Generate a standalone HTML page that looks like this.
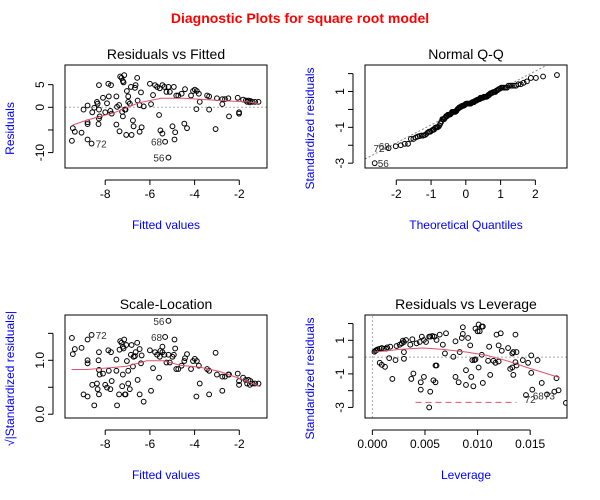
<!DOCTYPE html>
<html><head><meta charset="utf-8">
<style>
html,body{margin:0;padding:0;background:#fff;}
svg{display:block;font-family:"Liberation Sans",Arial,sans-serif;}
</style></head>
<body>
<svg id="chart" width="600" height="500" viewBox="0 0 600 500">
<text x="300" y="23" text-anchor="middle" font-size="14" font-weight="bold" fill="#ff0000">Diagnostic Plots for square root model</text>
</svg>
<script>
// ---- data ----
const fittedValues = [-9.49,-9.45,-9.36,-9.06,-8.97,-8.79,-8.79,-8.61,-8.79,-8.79,-8.58,-8.49,-8.37,-8.34,-8.28,-8.28,-8.25,-8.28,-8.3,-8.1,-8.0,-7.92,-7.86,-7.74,-7.84,-7.77,-7.71,-7.5,-7.5,-7.47,-7.38,-7.36,-7.33,-7.27,-7.21,-7.15,-7.18,-7.24,-7.21,-7.12,-7.09,-7.03,-7.06,-6.97,-6.97,-6.9,-6.85,-6.82,-6.76,-6.73,-6.67,-6.64,-6.57,-6.55,-6.46,-6.4,-6.37,-6.28,-6.46,-6.0,-5.95,-5.86,-5.77,-5.68,-5.56,-5.44,-5.35,-5.59,-5.53,-5.44,-5.32,-5.17,-5.26,-5.11,-5.17,-4.93,-4.99,-4.87,-4.9,-4.82,-4.73,-4.58,-4.43,-4.46,-4.34,-4.16,-4.07,-3.99,-3.9,-3.81,-3.92,-3.77,-3.44,-3.35,-3.35,-3.06,-3.0,-2.76,-2.64,-2.49,-2.76,-2.46,-2.07,-2.01,-2.01,-1.83,-1.71,-1.59,-1.5,-1.41,-1.29,-1.14,-1.53,-1.65];
const residualValues = [-7.4,-4.6,-5.4,-5.6,-0.5,0.4,-7.1,-8.0,-3.3,-3.7,-1.1,-0.1,1.2,0.8,4.9,-0.5,-2.0,-2.5,-3.7,2.1,-1.1,0.9,5.2,4.9,2.4,-0.8,-1.4,2.4,-3.8,0.1,0.5,-5.3,6.8,6.5,5.8,7.1,5.5,-1.0,-2.0,-0.5,-0.5,3.6,-6.1,2.4,1.2,0.8,4.5,-6.1,-2.9,-4.2,4.3,4.9,6.5,1.5,0.5,3.3,-4.4,0.2,-5.4,5.2,0.7,2.7,4.9,4.5,4.2,4.9,4.5,-1.7,-5.1,-5.8,-7.6,-11.1,3.4,3.4,4.5,4.5,-4.2,-5.5,-7.1,2.6,2.6,3.0,4.0,-3.6,-4.6,2.6,3.6,3.9,3.6,3.0,-0.4,1.2,2.6,2.4,-0.5,-4.8,2.0,1.8,1.8,2.0,0.7,-2.0,2.1,-1.1,-1.4,1.7,1.5,1.5,1.4,1.2,1.2,1.2,1.1,1.2];
const residualSD = 3.7;
const smoothFitX = [-9.45,-8.8,-7.6,-6.5,-5.5,-4.5,-3.5,-2.5,-1.6,-1.1];
const smoothFitY = [-3.9,-2.8,-1.2,1.0,2.0,2.0,1.7,1.4,1.2,0.8];
const smoothScaleX = [-9.51,-8.83,-7.79,-7.04,-6.14,-5.4,-4.65,-3.75,-2.86,-1.96,-1.06];
const smoothScaleY = [0.83,0.83,0.86,0.89,0.99,0.99,0.91,0.87,0.79,0.66,0.51];
const leverageValues = [0.0002,0.0003,0.0004,0.0005,0.0007,0.0009,0.0011,0.0013,0.0014,0.0017,0.0007,0.0009,0.0012,0.0016,0.0019,0.0022,0.0023,0.0026,0.0028,0.0029,0.003,0.0032,0.003,0.003,0.0036,0.0038,0.0042,0.0045,0.0047,0.0049,0.0051,0.0054,0.0055,0.0057,0.0059,0.0061,0.0064,0.007,0.0037,0.0039,0.0046,0.0046,0.0049,0.0055,0.0058,0.006,0.006,0.0061,0.0054,0.0067,0.0069,0.0077,0.0079,0.0082,0.0083,0.0079,0.0085,0.0086,0.0086,0.0089,0.0089,0.0091,0.0093,0.0094,0.0096,0.0095,0.0097,0.0098,0.0098,0.01,0.0101,0.0102,0.0101,0.0104,0.0105,0.0104,0.0105,0.0111,0.0112,0.011,0.0115,0.0117,0.012,0.0118,0.0122,0.012,0.0123,0.0129,0.0133,0.0134,0.0131,0.0133,0.0134,0.0136,0.0137,0.0136,0.0137,0.0143,0.0148,0.0151,0.0146,0.0151,0.0152,0.0157,0.0161,0.0166,0.0173,0.0175,0.0177,0.0184];
const leverageResiduals = [0.32,0.38,0.42,0.46,0.5,0.54,0.5,0.5,0.58,0.62,-0.34,-0.46,-0.58,-0.06,-1.3,-0.18,0.66,0.74,0.82,0.98,0.9,1.02,0.3,-0.1,0.74,1.06,0.82,0.9,1.22,1.02,0.9,1.22,1.22,1.26,1.22,1.02,1.34,1.42,-1.3,-0.98,-1.5,-1.94,-1.18,-2.06,-1.38,-1.5,-0.5,-0.5,-3.0,0.74,0.22,0.02,-1.18,-1.5,0.3,0.94,1.14,1.38,1.78,-1.66,-0.78,1.14,0.7,-1.18,-1.74,-0.18,-0.18,-0.14,1.7,1.54,1.94,1.54,-0.62,1.82,1.82,0.14,-1.54,0.62,-1.06,-0.22,-0.22,-0.34,-0.26,1.34,1.42,0.7,0.38,0.54,0.22,0.3,-0.7,-0.62,-1.06,1.34,0.3,-0.3,-0.5,-0.18,-0.34,0.1,-2.26,-0.94,-1.94,-0.18,-1.54,-2.22,-2.06,-1.26,-1.98,-2.73];
const smoothLevX = [0.0002,0.0026,0.0048,0.0067,0.009,0.0109,0.0128,0.0147,0.0178];
const smoothLevY = [0.3,0.46,0.54,0.46,0.3,0.1,-0.22,-0.62,-1.22];
const cooksX = [0.0041,0.0137];
const cooksY = [-2.7,-2.7];
const ticksFittedX = [-8,-6,-4,-2];
const ticksResidY = [-10,-5,0,5];
const labelsResidY = ["-10","","0","5"];
const ticksQQX = [-2,-1,0,1,2];
const ticksStdY = [-3,-2,-1,0,1,2];
const labelsStdY = ["-3","","-1","","1",""];
const ticksScaleY = [0,0.5,1,1.5];
const labelsScaleY = ["0.0","","1.0",""];
const ticksLevX = [0,0.005,0.01,0.015];
const labelsLevX = ["0.000","0.005","0.010","0.015"];

const NS = "http://www.w3.org/2000/svg";
const svg = document.getElementById('chart');
function mk(tag, attrs, parent){
  const e = document.createElementNS(NS, tag);
  for (const k in attrs) e.setAttribute(k, attrs[k]);
  (parent||svg).appendChild(e);
  return e;
}
function panel(id, x0,x1,y0,y1, xmin,xmax,ymin,ymax){
  const g = mk('g', {});
  
  
  const cp = mk('clipPath', {id: id+'-clip'}, g);
  mk('rect', {x:x0, y:y0, width:x1-x0, height:y1-y0}, cp);
  const sx = v => x0 + (v - xmin) / (xmax - xmin) * (x1 - x0);
  const sy = v => y1 - (v - ymin) / (ymax - ymin) * (y1 - y0);
  const plot = mk('g', {'clip-path': 'url(#'+id+'-clip)'}, g);
  return {g, plot, sx, sy, x0,x1,y0,y1};
}
function frame(p, title, xlab, ylab, xt, xl, yt, yl, ylabX){
  const r = mk('rect', {x:p.x0, y:p.y0, width:p.x1-p.x0, height:p.y1-p.y0, fill:'none', stroke:'#000', 'stroke-width':1}, p.g);
  
  
  const t = mk('text', {x:(p.x0+p.x1)/2, y:p.y0-6, 'text-anchor':'middle', 'font-size':14, fill:'#000'}, p.g);
  t.textContent = title;
  
  
  const xa = mk('g', {}, p.g);
  
  
  mk('line', {x1:p.sx(xt[0]), x2:p.sx(xt[xt.length-1]), y1:p.y1+12, y2:p.y1+12, stroke:'#000'}, xa);
  xt.forEach((v,i)=>{
    mk('line', {x1:p.sx(v), x2:p.sx(v), y1:p.y1+12, y2:p.y1+17, stroke:'#000'}, xa);
    const tl = mk('text', {x:p.sx(v), y:p.y1+30, 'text-anchor':'middle', 'font-size':12}, xa);
    tl.textContent = xl[i];
    
    
  });
  const ya = mk('g', {}, p.g);
  
  
  const ax = p.x0 - 12;
  mk('line', {x1:ax, x2:ax, y1:p.sy(yt[0]), y2:p.sy(yt[yt.length-1]), stroke:'#000'}, ya);
  yt.forEach((v,i)=>{
    mk('line', {x1:ax-5, x2:ax, y1:p.sy(v), y2:p.sy(v), stroke:'#000'}, ya);
    if (yl[i]) {
      const tl = mk('text', {x:0, y:0, 'text-anchor':'middle', 'font-size':12, transform:'translate('+(ax-9)+','+p.sy(v)+') rotate(-90)'}, ya);
      tl.textContent = yl[i];
      
      
    }
  });
  const xlT = mk('text', {x:(p.x0+p.x1)/2, y:p.y1+61, 'text-anchor':'middle', 'font-size':12, fill:'#0000ff'}, p.g);
  xlT.textContent = xlab;
  
  
  const ylT = mk('text', {x:0, y:0, 'text-anchor':'middle', 'font-size':12, fill:'#0000ff', transform:'translate('+ylabX+','+((p.y0+p.y1)/2+12)+') rotate(-90)'}, p.g);
  ylT.textContent = ylab;
  
  
}
function pts(p, xs, ys){
  const n = Math.min(xs.length, ys.length);
  for (let i=0;i<n;i++){
    const c = mk('circle', {cx:p.sx(xs[i]), cy:p.sy(ys[i]), r:2.4, fill:'none', stroke:'#000', 'stroke-width':1}, p.plot);
    
    
  }
}
function line(p, xs, ys, color, dash, name){
  const d = xs.map((v,i)=>(i?'L':'M')+p.sx(v).toFixed(1)+','+p.sy(ys[i]).toFixed(1)).join(' ');
  const l = mk('path', {d, fill:'none', stroke:color, 'stroke-width':1, 'stroke-dasharray':dash||'none'}, p.plot);
  
  
}
function lab(p, x, y, txt, anchor, dx){
  const t = mk('text', {x:p.sx(x)+dx, y:p.sy(y)+4, 'text-anchor':anchor, 'font-size':10, fill:'#333'}, p.g);
  t.textContent = txt;
  
  
}

// Panel 1: Residuals vs Fitted
const p1 = panel('residuals-vs-fitted', 65,267,65,168, -9.8,-0.76,-13.4,9.34);
line(p1, [-9.8,-0.76], [0,0], '#aaa', '2,2', 'zero-line');
pts(p1, fittedValues, residualValues);
line(p1, smoothFitX, smoothFitY, '#DF536B', null, 'smooth-line');
frame(p1, 'Residuals vs Fitted', 'Fitted values', 'Residuals', ticksFittedX, ticksFittedX.map(String), ticksResidY, labelsResidY, 14);
lab(p1, fittedValues[7], residualValues[7], '72', 'start', 4);
lab(p1, fittedValues[70], residualValues[70], '68', 'end', -3);
lab(p1, fittedValues[71], residualValues[71], '56', 'end', -4);

// standardized residuals
const stdRes = residualValues.map(v => v / residualSD);

// Panel 2: Normal Q-Q
function erf(x){const s=Math.sign(x);x=Math.abs(x);const t=1/(1+0.3275911*x);const y=1-(((((1.061405429*t-1.453152027)*t)+1.421413741)*t-0.284496736)*t+0.254829592)*t*Math.exp(-x*x);return s*y;}
function pnorm(z){return 0.5*(1+erf(z/Math.SQRT2));}
function qnorm(p){let lo=-6,hi=6;for(let i=0;i<60;i++){const m=(lo+hi)/2;if(pnorm(m)<p)lo=m;else hi=m;}return (lo+hi)/2;}
const sortedStd = stdRes.slice().sort((a,b)=>a-b);
const nQ = sortedStd.length;
const theo = sortedStd.map((v,i)=>qnorm((i+0.5)/nQ));
const p2 = panel('normal-qq', 365,567,65,168, -2.9,2.91,-3.27,2.48);
function quant(arr,q){const a=arr.slice().sort((x,y)=>x-y);const h=(a.length-1)*q;const l=Math.floor(h);return a[l]+(a[Math.min(l+1,a.length-1)]-a[l])*(h-l);}
const qy1 = quant(sortedStd,0.25), qy3 = quant(sortedStd,0.75);
const slope = (qy3-qy1)/(2*0.6745), icpt = qy1 + slope*0.6745;
line(p2, [-3,3], [icpt-3*slope, icpt+3*slope], '#888', '2,2', 'qq-reference-line');
pts(p2, theo, sortedStd);
frame(p2, 'Normal Q-Q', 'Theoretical Quantiles', 'Standardized residuals', ticksQQX, ticksQQX.map(String), ticksStdY, labelsStdY, 314);
lab(p2, theo[0], sortedStd[0], '56', 'start', 3);
lab(p2, theo[1], sortedStd[1], '72', 'end', -4);
lab(p2, theo[2], sortedStd[2], '68', 'end', -6);

// Panel 3: Scale-Location
const sqrtAbs = stdRes.map(v => Math.sqrt(Math.abs(v)));
const p3 = panel('scale-location', 65,267,315,418, -9.8,-0.76,-0.07,1.84);
pts(p3, fittedValues, sqrtAbs);
line(p3, smoothScaleX, smoothScaleY, '#DF536B', null, 'smooth-line');
frame(p3, 'Scale-Location', 'Fitted values', '\u221A|Standardized residuals|', ticksFittedX, ticksFittedX.map(String), ticksScaleY, labelsScaleY, 14);
lab(p3, fittedValues[7], sqrtAbs[7], '72', 'start', 4);
lab(p3, fittedValues[70], sqrtAbs[70], '68', 'end', -3);
lab(p3, fittedValues[71], sqrtAbs[71], '56', 'end', -4);

// Panel 4: Residuals vs Leverage
const p4 = panel('residuals-vs-leverage', 365,567,315,418, -0.0007,0.0185,-3.63,2.51);
line(p4, [-0.0007,0.0185], [0,0], '#aaa', '2,2', 'zero-line');
line(p4, [0,0], [-3.63,2.51], '#aaa', '2,2', 'zero-leverage-line');
pts(p4, leverageValues, leverageResiduals);
line(p4, smoothLevX, smoothLevY, '#DF536B', null, 'smooth-line');
line(p4, cooksX, cooksY, '#DF536B', '6,4', 'cooks-distance-line');
frame(p4, 'Residuals vs Leverage', 'Leverage', 'Standardized residuals', ticksLevX, labelsLevX, ticksStdY, labelsStdY, 314);
lab(p4, 0.0150, -2.5, '72', 'middle', 0);
lab(p4, 0.0163, -2.3, '6873', 'middle', 0);
</script>
</body></html>
